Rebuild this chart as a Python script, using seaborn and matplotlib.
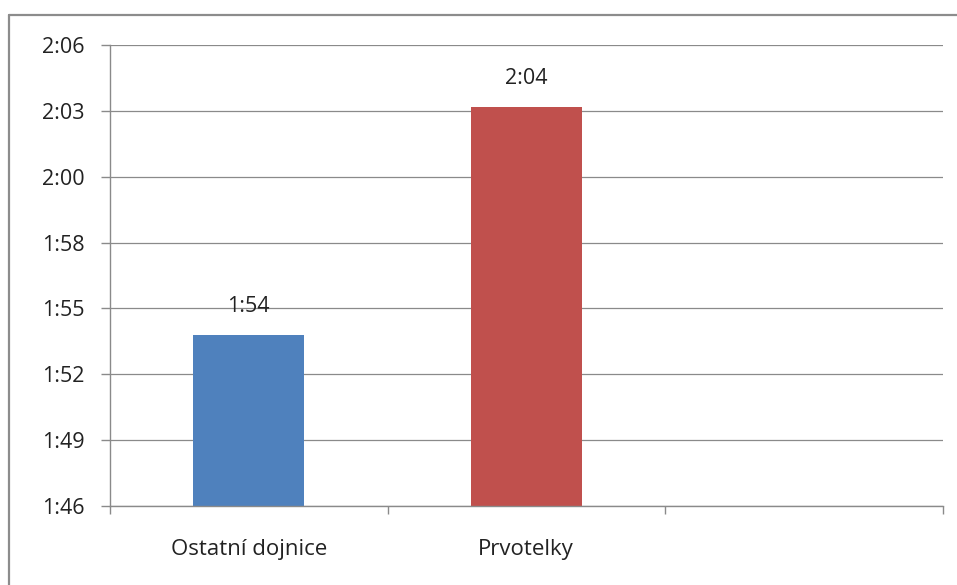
import matplotlib
matplotlib.use("Agg")
import matplotlib.pyplot as plt
import matplotlib.ticker as mticker
from matplotlib.lines import Line2D
import seaborn as sns
import pandas as pd

# data: mean time in minutes (shown as h:mm)
categories = ["Ostatní dojnice", "Prvotelky"]
minutes = [114.02, 124.02]
colors = ["#4F81BD", "#C0504D"]

# axis in Excel day units: 0.074 .. 0.088, step 0.002
y_min_days, y_max_days, step_days = 0.074, 0.088, 0.002


def hmm(m, pos=None):
    m = int(m + 1e-9)  # Excel h:mm truncates seconds
    return f"{m // 60}:{m % 60:02d}"


sns.set_style("white", {"xtick.bottom": True, "ytick.left": True})
plt.rcParams["font.family"] = ["Open Sans", "DejaVu Sans"]

df = pd.DataFrame({"cat": categories, "min": minutes})

fig = plt.figure(figsize=(9.57, 5.85), dpi=100)
ax = fig.add_axes([110 / 957, 79 / 585, 832.5 / 957, 461 / 585])

sns.barplot(data=df, x="cat", y="min", hue="cat", palette=colors,
            width=0.4, legend=False, ax=ax, saturation=1, linewidth=0)

ax.set_xlim(-0.5, 2.5)
ax.set_ylim(y_min_days * 1440, y_max_days * 1440)
yt = [(y_min_days + k * step_days) * 1440 for k in range(8)]
ax.set_yticks(yt)
ax.yaxis.set_major_formatter(mticker.FuncFormatter(hmm))
ax.grid(axis="y", color="#8a8a8a", linewidth=0.9)
ax.set_axisbelow(True)

# category boundaries as ticks, labels in the middle
ax.set_xticks([-0.5, 0.5, 1.5, 2.5])
ax.set_xticklabels([])
ax.set_xticks([0, 1], minor=True)
ax.set_xticklabels(categories, minor=True)
ax.tick_params(axis="x", which="major", bottom=True, length=6, width=1,
               color="#8a8a8a", direction="out")
ax.tick_params(axis="x", which="minor", bottom=True, length=0, pad=24,
               labelsize=16, labelcolor="#222222")
ax.yaxis.set_tick_params(which="major", left=True, length=6.5, width=1,
                         color="#8a8a8a", direction="out", pad=12,
                         labelsize=15.5, labelcolor="#222222")
ax.set_xlabel("")
ax.set_ylabel("")

for s in ["top", "right"]:
    ax.spines[s].set_visible(False)
for s in ["left", "bottom"]:
    ax.spines[s].set_color("#8a8a8a")
    ax.spines[s].set_linewidth(1)

for i, m in enumerate(minutes):
    ax.annotate(hmm(m), (i, m), xytext=(0, 13), textcoords="offset points",
                ha="center", va="bottom", fontsize=15.5, color="#222222")

# chart frame (left and top edges visible)
fig.add_artist(Line2D([8.5 / 957, 8.5 / 957], [0, 1 - 15 / 585],
                      transform=fig.transFigure, color="#8c8c8c", linewidth=1.6))
fig.add_artist(Line2D([8.5 / 957, 1], [1 - 15 / 585, 1 - 15 / 585],
                      transform=fig.transFigure, color="#8c8c8c", linewidth=1.6))

fig.savefig("out.png", dpi=100)
